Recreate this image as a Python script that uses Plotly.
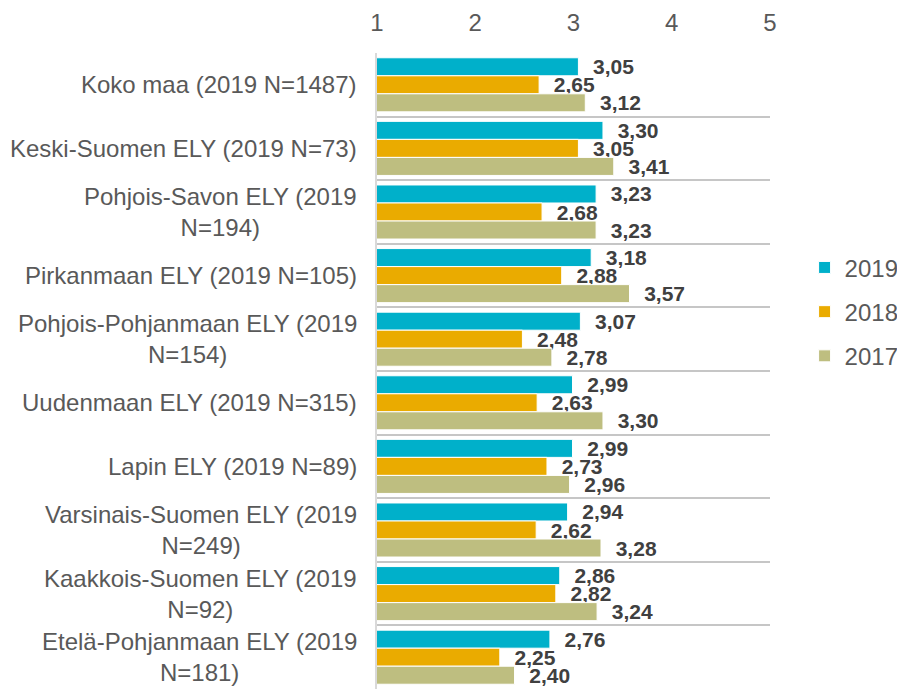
import plotly.graph_objects as go

categories = [
    "Koko maa (2019 N=1487)",
    "Keski-Suomen ELY (2019 N=73)",
    "Pohjois-Savon ELY (2019<br>N=194)",
    "Pirkanmaan ELY (2019 N=105)",
    "Pohjois-Pohjanmaan ELY (2019<br>N=154)",
    "Uudenmaan ELY (2019 N=315)",
    "Lapin ELY (2019 N=89)",
    "Varsinais-Suomen ELY (2019<br>N=249)",
    "Kaakkois-Suomen ELY (2019<br>N=92)",
    "Etelä-Pohjanmaan ELY (2019<br>N=181)",
]
values_2019 = [3.05, 3.30, 3.23, 3.18, 3.07, 2.99, 2.99, 2.94, 2.86, 2.76]
values_2018 = [2.65, 3.05, 2.68, 2.88, 2.48, 2.63, 2.73, 2.62, 2.82, 2.25]
values_2017 = [3.12, 3.41, 3.23, 3.57, 2.78, 3.30, 2.96, 3.28, 3.24, 2.40]
x_ticks = [1, 2, 3, 4, 5]

series = [
    ("2019", values_2019, "#00b0ca"),
    ("2018", values_2018, "#eaab00"),
    ("2017", values_2017, "#bebe80"),
]

def fmt(v):
    return "\u00a0\u00a0" + f"{v:.2f}".replace(".", ",")

fig = go.Figure()
for name, vals, color in series:
    fig.add_trace(go.Bar(
        y=categories, x=vals, name=name, orientation="h",
        marker=dict(color=color, line=dict(color="white", width=1)),
        text=[fmt(v) for v in vals], textposition="outside",
        textfont=dict(family="Liberation Sans, Arial", size=21, color="#404040", weight="bold"),
        constraintext="none", cliponaxis=False,
        legendgroup=name,
    ))

for c in categories:
    fig.add_annotation(
        x=0, xref="paper", y=c, yref="y", text=c, showarrow=False,
        xanchor="right", xshift=-18, align="center",
        font=dict(family="Liberation Sans, Arial", size=24, color="#595959"),
    )

fig.update_layout(
    width=897, height=681,
    margin=dict(l=369, r=135, t=45, b=0),
    paper_bgcolor="white", plot_bgcolor="white",
    barmode="group", bargap=0.15, bargroupgap=0,
    font=dict(family="Liberation Sans, Arial", size=24, color="#595959"),
    showlegend=True,
    legend=dict(
        x=1.088, xanchor="left", y=0.593, yanchor="middle",
        font=dict(size=24, color="#595959"),
        traceorder="grouped", tracegroupgap=10,
    ),
    xaxis=dict(
        range=[1, 5], side="top", tickvals=x_ticks,
        ticktext=[str(t) for t in x_ticks],
        showgrid=False, zeroline=False, showline=False, ticks="",
        ticklabelstandoff=16,
        tickfont=dict(size=24, color="#595959"),
    ),
    yaxis=dict(
        categoryorder="array", categoryarray=categories,
        autorange="reversed", showticklabels=False,
        tickson="boundaries", showgrid=True, gridcolor="#c6c6c6", gridwidth=2,
        showline=True, linecolor="#d9d9d9", linewidth=2,
        ticks="", zeroline=False,
    ),
)

fig.write_html("out.html")
